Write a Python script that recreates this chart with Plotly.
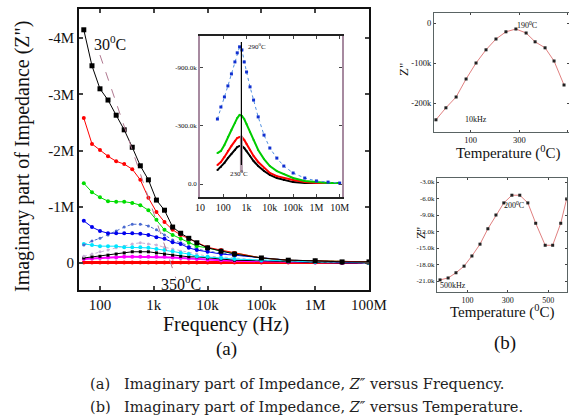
import plotly.graph_objects as go

W, H = 569, 418
def px(x): return x / W
def py(y): return 1 - y / H

SERIF = "Liberation Serif"

# ---------------- (a) main panel: Z'' (M) vs frequency ----------------
freq = [50, 71, 100, 141, 200, 282, 398, 562, 794, 1120, 1580, 2240, 3160, 4470, 6310,
        10000, 17800, 31600, 100000, 316000, 1000000, 3160000, 10000000]
z_30C   = [-4.15, -3.51, -3.10, -2.90, -2.63, -2.37, -2.06, -1.73, -1.48, -1.12, -0.94, -0.64,
           -0.53, -0.44, -0.36, -0.27, -0.21, -0.16, -0.09, -0.05, -0.04, -0.02, -0.02]
z_red1  = [-2.58, -2.12, -2.01, -1.90, -1.81, -1.76, -1.67, -1.48, -1.16, -0.91, -0.73, -0.59,
           -0.50, -0.43, -0.36, -0.28, -0.23, -0.18, -0.09, -0.05, -0.04, -0.02, -0.02]
z_green = [-1.42, -1.26, -1.17, -1.10, -1.09, -1.09, -1.07, -1.03, -0.94, -0.77, -0.59, -0.50,
           -0.43, -0.36, -0.30, -0.27, -0.21, -0.18, -0.09, -0.05, -0.04, -0.02, -0.02]
z_blue  = [-0.75, -0.64, -0.57, -0.53, -0.53, -0.53, -0.53, -0.52, -0.50, -0.46, -0.43, -0.37,
           -0.34, -0.27, -0.23, -0.20, -0.16, -0.14, -0.09, -0.05, -0.04, -0.02, -0.02]
z_blue2 = [-0.32, -0.39, -0.44, -0.50, -0.57, -0.64, -0.69, -0.69, -0.66, -0.59, -0.50, -0.41,
           -0.36, -0.30, -0.25, -0.21, -0.18, -0.14, -0.09, -0.05, -0.04, -0.02, -0.02]
z_cyan  = [-0.34, -0.32, -0.30, -0.30, -0.30, -0.28, -0.28, -0.28, -0.27, -0.25, -0.23, -0.21,
           -0.18, -0.16, -0.12, -0.11, -0.09, -0.07, -0.05, -0.04, -0.02, -0.02, 0.0]
z_lav   = [-0.12, -0.16, -0.20, -0.23, -0.27, -0.30, -0.34, -0.36, -0.34, -0.32, -0.28, -0.25,
           -0.21, -0.18, -0.16, -0.12, -0.11, -0.09, -0.05, -0.04, -0.02, -0.02, 0.0]
z_black2 = [-0.09, -0.11, -0.12, -0.14, -0.16, -0.18, -0.20, -0.20, -0.20, -0.18, -0.16, -0.14,
            -0.12, -0.11, -0.11, -0.09, -0.07, -0.05, -0.04, -0.02, -0.01, 0.0, 0.0]
z_mag   = [-0.07, -0.08, -0.09, -0.10, -0.10, -0.11, -0.11, -0.11, -0.11, -0.11, -0.11, -0.10,
           -0.09, -0.08, -0.07, -0.06, -0.05, -0.04, -0.03, -0.02, -0.01, 0.0, 0.0]
z_red0  = [-0.01, -0.01, -0.01, -0.01, -0.01, -0.01, -0.01, -0.01, -0.01, -0.01, -0.01, -0.01,
           -0.01, -0.01, -0.01, -0.01, -0.01, -0.01, -0.01, -0.01, -0.01, -0.01, -0.01]
guide_f = [100, 2570]
guide_z = [-3.70, 0.27]

# ---------------- inset: Z'' (k) vs frequency ----------------
in_freq = [56, 79, 112, 158, 224, 316, 398, 501, 631, 794, 1000, 1410, 2000, 3160, 5620,
           10000, 20000, 39800, 100000, 316000, 1000000, 3160000, 10000000]
in_blue  = [-336, -398, -450, -507, -569, -631, -678, -709, -693, -631, -579, -502, -434,
            -347, -253, -186, -134, -93, -57, -31, -16, -10, -5]
in_green = [-160, -171, -202, -243, -279, -316, -341, -357, -352, -336, -310, -269, -228,
            -176, -129, -93, -67, -52, -31, -16, -10, -5, -5]
in_red   = [-98, -114, -140, -171, -197, -222, -238, -243, -243, -228, -207, -176, -145,
            -114, -83, -57, -41, -31, -21, -10, -5, -5, -5]
in_black = [-72, -88, -109, -134, -155, -176, -191, -197, -197, -186, -171, -145, -119,
            -93, -67, -47, -31, -21, -10, -5, -5, -5, -5]
peak_f = [600, 600]
peak_z_black = [-734, -98]
peak_z_grey = [-250, -60]

# ---------------- (b) top: Z'' (k) vs temperature at 10 kHz ----------------
t_10k = [-43, -2, 40, 81, 122, 163, 204, 245, 286, 328, 365, 406, 443, 484]
z_10k = [-242, -212, -185, -140, -100, -67, -40, -22, -15, -25, -47, -62, -95, -155]

# ---------------- (b) bottom: Z'' (k) vs temperature at 500 kHz ----------------
t_500k = [-36, 4, 43, 83, 122, 162, 201, 241, 280, 320, 359, 399, 438, 485, 522, 562, 591]
z_500k = [-20.8, -20.45, -19.5, -18.3, -16.45, -14.3, -11.5, -9.0, -6.8, -5.4, -5.4, -6.8,
          -10.5, -14.5, -14.5, -10.5, -6.1]

fig = go.Figure()

main_series = [
    (z_red0, "#ff0000", "circle", 4, "solid", 3),
    (z_mag, "#ff00ff", "circle", 4, "solid", 2),
    (z_black2, "#000000", "square", 3, "solid", 1),
    (z_lav, "#c8b4d8", "circle", 3, "dot", 1),
    (z_cyan, "#00e6ff", "circle", 4, "solid", 1),
    (z_blue2, "#4a6ad0", "circle", 3, "dot", 1),
    (z_blue, "#0000ee", "circle", 4, "solid", 1),
    (z_green, "#00dd00", "circle", 4, "solid", 1),
    (z_red1, "#ff0000", "circle", 4, "solid", 1),
    (z_30C, "#000000", "square", 5, "solid", 1),
]
for vals, col, sym, sz, dash, lw in main_series:
    fig.add_trace(go.Scatter(x=freq, y=vals, mode="lines+markers", xaxis="x", yaxis="y",
                             line=dict(color=col, width=lw, dash=dash),
                             marker=dict(color=col, symbol=sym, size=sz)))
fig.add_trace(go.Scatter(x=guide_f, y=guide_z, mode="lines", xaxis="x", yaxis="y",
                         line=dict(color="#b07890", width=1, dash="dash")))

# inset traces
inset_series = [
    (in_black, "#000000", 2, 2),
    (in_red, "#ff0000", 2, 2),
    (in_green, "#00cc00", 2, 2),
]
for vals, col, sz, lw in inset_series:
    fig.add_trace(go.Scatter(x=in_freq, y=vals, mode="lines+markers", xaxis="x2", yaxis="y2",
                             line=dict(color=col, width=lw),
                             marker=dict(color=col, size=sz)))
fig.add_trace(go.Scatter(x=in_freq, y=in_blue, mode="lines+markers", xaxis="x2", yaxis="y2",
                         line=dict(color="#4f8fe0", width=1, dash="dot"),
                         marker=dict(color="#1030d0", symbol="square", size=3)))
fig.add_trace(go.Scatter(x=peak_f, y=peak_z_grey, mode="lines", xaxis="x2", yaxis="y2",
                         line=dict(color="#b8a0b0", width=3)))
fig.add_trace(go.Scatter(x=peak_f, y=peak_z_black, mode="lines", xaxis="x2", yaxis="y2",
                         line=dict(color="#000000", width=1.2)))

# right panels
fig.add_trace(go.Scatter(x=t_10k, y=z_10k, mode="lines+markers", xaxis="x3", yaxis="y3",
                         line=dict(color="#e08080", width=1),
                         marker=dict(color="#222222", symbol="square", size=3)))
fig.add_trace(go.Scatter(x=t_500k, y=z_500k, mode="lines+markers", xaxis="x4", yaxis="y4",
                         line=dict(color="#e08080", width=1),
                         marker=dict(color="#222222", symbol="square", size=3)))

tickfont_main = dict(family=SERIF, size=15, color="#111")
axis_common = dict(showgrid=False, zeroline=False, showline=True, ticks="inside",
                   mirror="ticks", automargin=False)

fig.update_layout(
    width=W, height=H, margin=dict(l=0, r=0, t=0, b=0, pad=0), autosize=False,
    paper_bgcolor="white", plot_bgcolor="white", showlegend=False,
    xaxis=dict(axis_common, type="log", domain=[px(79), px(369)], range=[1.61, 7.0],
               tickvals=[100, 1e3, 1e4, 1e5, 1e6, 1e7],
               ticktext=["100", "1k", "10k", "100k", "1M", "100M"],
               linecolor="#111", linewidth=2, tickwidth=1.5, ticklen=4,
               tickfont=tickfont_main, anchor="y"),
    yaxis=dict(axis_common, domain=[py(290), py(9)], range=[0.48, -4.52],
               tickvals=[-4, -3, -2, -1, 0], ticktext=["-4M", "-3M", "-2M", "-1M", "0"],
               linecolor="#111", linewidth=2, tickwidth=1.5, ticklen=4,
               tickfont=tickfont_main, anchor="x"),
    xaxis2=dict(axis_common, type="log", domain=[px(200), px(342)], range=[1.0, 7.1],
                tickvals=[10, 100, 1e3, 1e4, 1e5, 1e6, 1e7],
                ticktext=["10", "100", "1k", "10k", "100k", "1M", "10M"],
                linecolor="#222", linewidth=1.5, ticklen=3,
                tickfont=dict(family=SERIF, size=10, color="#111"), anchor="y2"),
    yaxis2=dict(axis_common, domain=[py(197), py(36)], range=[67, -765],
                tickvals=[0, -300, -600], ticktext=["0.0", "-300.0k", "-900.0k"],
                linecolor="#a78aa0", linewidth=1.5, ticklen=3,
                tickfont=dict(family=SERIF, size=7, color="#111"), anchor="x2"),
    xaxis3=dict(axis_common, domain=[px(434), 1.0], range=[-51, 504.5],
                tickvals=[100, 300, 500], ticktext=["100", "300", "500"],
                linecolor="#5a6464", linewidth=1.2, ticklen=2,
                tickfont=dict(family=SERIF, size=8.5, color="#111"), anchor="y3"),
    yaxis3=dict(axis_common, domain=[py(132), py(13)], range=[-272.5, 25],
                tickvals=[0, -100, -200], ticktext=["0", "-100k", "-200k"],
                linecolor="#5a6464", linewidth=1.2, ticklen=2,
                tickfont=dict(family=SERIF, size=8.5, color="#111"), anchor="x3"),
    xaxis4=dict(axis_common, domain=[px(437), px(567)], range=[-51, 593],
                tickvals=[100, 300, 500], ticktext=["100", "300", "500"],
                linecolor="#5a6464", linewidth=1.2, ticklen=2,
                tickfont=dict(family=SERIF, size=8, color="#111"), anchor="y4"),
    yaxis4=dict(axis_common, domain=[py(292), py(178)], range=[-23.0, -2.27],
                tickvals=[-3, -6, -9, -12, -15, -18, -21],
                ticktext=["-3.0k", "-6.0k", "-9.0k", "-12.0k", "-15.0k", "-18.0k", "-21.0k"],
                linecolor="#5a6464", linewidth=1.2, ticklen=2,
                tickfont=dict(family=SERIF, size=7, color="#111"), anchor="x4"),
)

def note(text, x, y, size, family=SERIF, angle=0, xanchor="center", color="#111"):
    fig.add_annotation(text=text, x=px(x), y=py(y), xref="paper", yref="paper",
                       showarrow=False, textangle=angle, xanchor=xanchor, yanchor="middle",
                       font=dict(family=family, size=size, color=color))

note("Imaginary part of Impedance (Z\")", 22, 157, 20, angle=-90)
note("Frequency (Hz)", 226, 324, 20)
note("(a)", 226, 349, 19)
note("30<sup>0</sup>C", 110, 43, 16)
note("350<sup>0</sup>C", 181, 283, 16)
note("290<sup>0</sup>C", 257, 46, 7)
note("230<sup>0</sup>C", 239, 173, 7)

note("190<sup>0</sup>C", 527, 25, 8)
note("10kHz", 476, 119, 8)
note("Z\"", 403, 70, 13, angle=-90)
note("Temperature (<sup>0</sup>C)", 508, 152, 15)

note("200<sup>0</sup>C", 514, 205, 8)
note("500kHz", 453, 285, 8)
note("Z\"", 421, 233, 12, angle=-90)
note("Temperature (<sup>0</sup>C)", 503, 311, 15)
note("(b)", 505, 343, 19)

CAP = "DejaVu Serif"
note("(a)", 88, 383, 14.6, family=CAP, xanchor="left", color="#222")
note("Imaginary part of Impedance, <i>Z″</i> versus Frequency.", 122, 383, 14.6, family=CAP,
     xanchor="left", color="#222")
note("(b)", 88, 406, 14.6, family=CAP, xanchor="left", color="#222")
note("Imaginary part of Impedance, <i>Z″</i> versus Temperature.", 122, 406, 14.6, family=CAP,
     xanchor="left", color="#222")

post = ("document.body.style.margin='0';document.body.style.padding='0';"
        "document.body.style.overflow='hidden';"
        "document.documentElement.style.overflow='hidden';"
        "var gd=document.getElementById('{plot_id}');"
        "Plotly.relayout(gd,{width:569,height:418});")
fig.write_html("out.html", post_script=post,
               config={"responsive": False, "displayModeBar": False})
